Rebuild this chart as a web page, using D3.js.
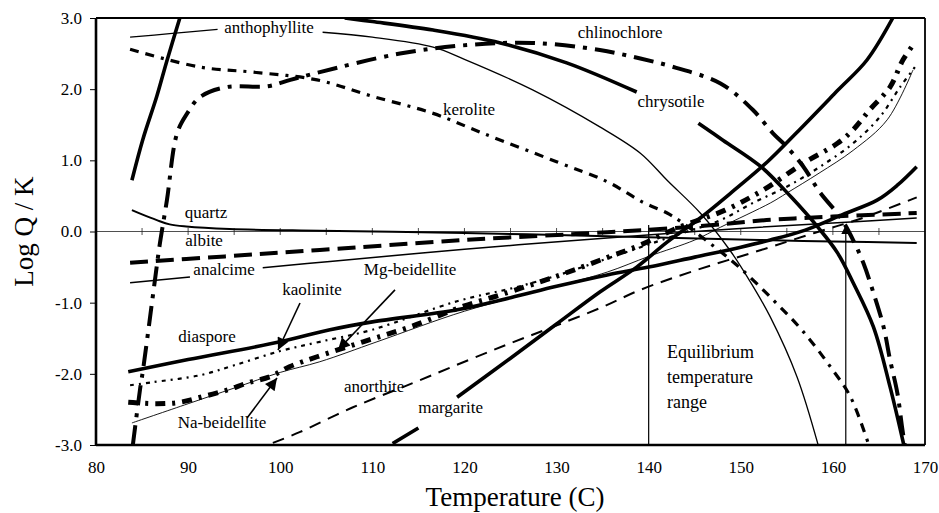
<!DOCTYPE html>
<html><head><meta charset="utf-8">
<script src="https://cdn.jsdelivr.net/npm/d3@7"></script>
<style>
body{margin:0;background:#fff}
svg text{font-family:"Liberation Serif","Times New Roman",serif !important;fill:#000}
</style>
</head><body>
<svg id="chart" width="939" height="513"></svg>
<script>
// ---------- data ----------
const xTicks = [80, 90, 100, 110, 120, 130, 140, 150, 160, 170];
const xTickLabels = ["80","90","100","110","120","130","140","150","160","170"];
const yTicks = [3, 2, 1, 0, -1, -2, -3];
const yTickLabels = ["3.0","2.0","1.0","0.0","-1.0","-2.0","-3.0"];
const zeroLineTicks = [85,90,95,100,105,110,115,120,125,130,135,140,145,150,155,160,165];

const anthophyllite = [[83.7,2.73],[88,2.78],[93.2,2.84],null,[104.6,2.80],[110,2.73],[116.6,2.59],[120,2.42],[127.4,1.99],[134.7,1.47],[139.1,1.10],[142,0.72],[145.6,0.26],[148.8,-0.26],[151,-0.7],[153.2,-1.2],[156.1,-2.04],[158.4,-3.0]];
const chrysotile = [[83.9,0.72],[85.1,1.3],[86.6,1.9],[87.7,2.4],[89.1,3.0],null,[107,3.0],[110,2.95],[116.6,2.83],[123.9,2.65],[131.1,2.37],[138.7,1.96],null,[145.4,1.52],[148.1,1.28],[152.2,0.91],[155.5,0.48],[158.5,0.04],[160.5,-0.3],[162.2,-0.72],[164.4,-1.34],[166.2,-2.18],[167.7,-3.0]];
const kerolite = [[83.7,2.56],[91.3,2.31],[97,2.24],[104,2.13],[110,1.9],[116.6,1.66],[122,1.38],[130,0.98],[135.5,0.70],[139.4,0.41],[142,0.26],[143.6,0.13],[146.5,-0.15],[149.9,-0.51],[153.5,-0.96],[156.8,-1.41],[160,-1.95],[161.9,-2.32],[163.8,-2.96]];
const chlinochlore = [[84,-3.0],[84.8,-2.2],[85.1,-1.95],[86.4,-0.68],[86.9,-0.2],[87.7,0.44],[88.8,1.38],[89.9,1.66],[91.3,1.89],[94.2,2.03],[98.6,2.04],[101.1,2.13],[104.3,2.24],[113,2.5],[120.3,2.62],[127.4,2.65],[134.7,2.55],[139.1,2.43],[143,2.3],[147.8,2.08],[151.3,1.71],[153.5,1.38],[155,1.19],[156.8,0.91],[158.6,0.55],[160.8,0.2],[162.2,-0.12],[163.3,-0.44],[164.4,-0.86],[165.5,-1.34],[166.2,-1.8],[167,-2.27],[167.5,-2.74],[167.8,-3.0]];
const quartz = [[83.9,0.30],[85,0.24],[86.6,0.16],[88,0.10],[89.8,0.07],[94.5,0.035],[104.3,0.01],[120,-0.02],[130,-0.05],[140,-0.08],[152.1,-0.12],[160,-0.14],[169.1,-0.16]];
const albite = [[83.7,-0.44],[94,-0.35],[104.3,-0.26],[120,-0.12],[135.5,-0.01],[145,0.07],[152.8,0.16],[160,0.21],[169.1,0.26]];
const analcime = [[83.7,-0.72],[90.2,-0.64],null,[98.1,-0.51],[105.4,-0.42],[120,-0.25],[135.5,-0.09],[145,0.0],[152.1,0.06],[160,0.12],[169.1,0.19]];
const diaspore = [[83.5,-1.97],[90,-1.8],[100,-1.55],[105.4,-1.38],[110,-1.27],[119.2,-1.1],[125,-0.93],[130,-0.77],[135.5,-0.61],[140,-0.5],[145,-0.36],[150,-0.22],[153.2,-0.12],[157,0.02],[161.1,0.24],[164.8,0.44],[167,0.65],[169.1,0.91]];
const kaolinite = [[83.7,-2.16],[86,-2.12],[91.3,-2.02],[95,-1.88],[100,-1.68],[104.3,-1.55],[110,-1.38],[119.2,-0.98],[125.7,-0.78],[130,-0.62],[135.5,-0.38],[143,-0.05],[147.8,0.16],[151.3,0.40],[155,0.63],[158.6,0.91],[162.2,1.24],[165.1,1.61],[167.3,2.03],[168.9,2.31]];
const mgBeidellite = [[83.5,-2.4],[86.6,-2.42],[89.1,-2.4],[91.6,-2.32],[94.2,-2.23],[96.4,-2.13],[98.9,-2.04],[101,-1.9],[104,-1.76],[109,-1.55],[114.1,-1.34],[119.9,-1.05],[123.9,-0.89],[130.4,-0.61],[135.6,-0.36],[139.1,-0.19],[143.1,0.05],[148.3,0.3],[152.4,0.58],[156.8,0.96],[160.5,1.24],[162.2,1.43],[164,1.71],[166.2,2.03],[167.6,2.41],[168.7,2.62]];
const naBeidellite = [[83.9,-2.69],[90,-2.42],[95,-2.2],[100,-1.98],[104.3,-1.83],[110.5,-1.55],[120,-1.12],[130,-0.77],[135.5,-0.57],[140,-0.35],[145,-0.12],[147.8,0.06],[153.2,0.40],[155,0.54],[158.5,0.82],[162.2,1.14],[165.9,1.57],[168.7,2.27]];
const anorthite = [[99.2,-2.97],[102.1,-2.82],[107.9,-2.47],[114.4,-2.13],[120,-1.83],[125,-1.57],[129.6,-1.34],[135,-1.06],[139.1,-0.82],[145,-0.55],[152.2,-0.26],[158,-0.02],[163,0.18],[169.1,0.48]];
const margarite = [[112.2,-2.98],[115,-2.76],null,[119.2,-2.33],[125,-1.78],[130,-1.3],[134.7,-0.85],[138.7,-0.5],[142,-0.15],[145.6,0.19],[149,0.55],[152.9,0.98],[156,1.38],[160.5,1.98],[163.7,2.41],[166.5,3.0]];

const seriesNames = ["anthophyllite","chrysotile","kerolite","chlinochlore","quartz","albite","analcime","diaspore","kaolinite","mgBeidellite","naBeidellite","anorthite","margarite"];
const seriesData = {anthophyllite, chrysotile, kerolite, chlinochlore, quartz, albite, analcime, diaspore, kaolinite, mgBeidellite, naBeidellite, anorthite, margarite};

// label texts and anchor points (data coordinates)
const labelTexts = ["anthophyllite","chlinochlore","kerolite","chrysotile","quartz","albite","analcime","kaolinite","Mg-beidellite","diaspore","Na-beidellite","anorthite","margarite"];
const labelT = [98.78, 136.9, 120.5, 142.43, 91.94, 91.73, 93.9, 103.45, 114.1, 92.05, 93.68, 110.2, 118.5];
const labelV = [2.86, 2.79, 1.71, 1.83, 0.27, -0.13, -0.53, -0.81, -0.54, -1.48, -2.69, -2.18, -2.48];

// annotation arrows [fromT, fromV, toT, toV]
const arrows = [[102.15,-1.005,99.76,-1.665],[112.46,-0.82,106.27,-1.665],[96.4,-2.62,99.65,-2.06]];
// equilibrium temperature range
const eqRange = [140, 161.4];
const eqTop = 0.09;
const eqText = ["Equilibrium","temperature","range"];
const eqTextT = 142.0;
const eqTextV = [-1.69, -2.04, -2.40];

// ---------- styles ----------
const styles = {
  anthophyllite:{w:1.3,dash:null},
  chrysotile:{w:3.6,dash:null},
  kerolite:{w:3.2,dash:"9,7,9,7,3,7"},
  chlinochlore:{w:4,dash:"20,8,4,8"},
  quartz:{w:2,dash:null},
  albite:{w:4,dash:"18,8"},
  analcime:{w:1.5,dash:null},
  diaspore:{w:3.6,dash:null},
  kaolinite:{w:2.2,dash:"4,5,2,5"},
  mgBeidellite:{w:5,dash:"10,7,3,7"},
  naBeidellite:{w:0.9,dash:null},
  anorthite:{w:2,dash:"12,8"},
  margarite:{w:3.6,dash:null}
};
const FONT = '"Liberation Serif","Times New Roman",serif';

// ---------- chart ----------
const svg = d3.select("#chart");
const L = 96, R = 925, T = 18, B = 445;
const x = d3.scaleLinear().domain([80,170]).range([L,R]);
const y = d3.scaleLinear().domain([-3,3]).range([B,T]);

const defs = svg.append("defs");
defs.append("clipPath").attr("id","clip")
  .append("rect").attr("x",L).attr("y",T).attr("width",R-L).attr("height",B-T);
defs.append("marker").attr("id","ah").attr("viewBox","0 0 10 10").attr("refX",10).attr("refY",5)
  .attr("markerWidth",9).attr("markerHeight",9).attr("markerUnits","userSpaceOnUse").attr("orient","auto")
  .append("path").attr("d","M0,0L10,5L0,10z").attr("fill","#000");
defs.append("marker").attr("id","ahBig").attr("viewBox","0 0 10 10").attr("refX",10).attr("refY",5)
  .attr("markerWidth",14).attr("markerHeight",12).attr("markerUnits","userSpaceOnUse").attr("orient","auto")
  .append("path").attr("d","M0,0L10,5L0,10z").attr("fill","#000");

// zero line with ticks
const g0 = svg.append("g");
g0.append("line").attr("x1",L).attr("x2",R).attr("y1",y(0)).attr("y2",y(0))
  .attr("stroke","#222").attr("stroke-width",0.8);
g0.selectAll("line.zt").data(zeroLineTicks).enter().append("line").attr("class","zt")
  .attr("x1",d=>x(d)).attr("x2",d=>x(d)).attr("y1",y(0)-3.5).attr("y2",y(0)+3.5)
  .attr("stroke","#222").attr("stroke-width",0.8);

// series
const line = d3.line().defined(d=>d!==null).x(d=>x(d[0])).y(d=>y(d[1])).curve(d3.curveCatmullRom.alpha(0.5));
const gl = svg.append("g").attr("clip-path","url(#clip)");
seriesNames.forEach(n=>{
  const s = styles[n];
  gl.append("path").attr("d",line(seriesData[n])).attr("fill","none")
    .attr("stroke","#000").attr("stroke-width",s.w)
    .attr("stroke-dasharray",s.dash).attr("stroke-linecap","butt").attr("stroke-linejoin","round");
});

// equilibrium verticals
gl.append("line").attr("x1",x(eqRange[0])).attr("x2",x(eqRange[0])).attr("y1",y(-3)).attr("y2",y(eqTop))
  .attr("stroke","#000").attr("stroke-width",1.2);
gl.append("line").attr("x1",x(eqRange[1])).attr("x2",x(eqRange[1])).attr("y1",y(-3)).attr("y2",y(eqTop))
  .attr("stroke","#000").attr("stroke-width",1.2).attr("marker-end","url(#ah)");

// arrows
arrows.forEach(a=>{
  svg.append("line").attr("x1",x(a[0])).attr("y1",y(a[1])).attr("x2",x(a[2])).attr("y2",y(a[3]))
    .attr("stroke","#000").attr("stroke-width",1.6).attr("marker-end","url(#ahBig)");
});

// labels
labelTexts.forEach((t,i)=>{
  svg.append("text").attr("x",x(labelT[i])).attr("y",y(labelV[i]))
    .attr("text-anchor","middle").attr("dominant-baseline","central")
    .style("font-family",FONT).style("font-size","17px").text(t);
});
eqText.forEach((t,i)=>{
  svg.append("text").attr("x",x(eqTextT)).attr("y",y(eqTextV[i])).attr("dominant-baseline","central")
    .style("font-family",FONT).style("font-size","18px").text(t);
});

// frame
svg.append("line").attr("x1",L).attr("x2",R).attr("y1",T).attr("y2",T).attr("stroke","#000").attr("stroke-width",1.8);
svg.append("line").attr("x1",R).attr("x2",R).attr("y1",T).attr("y2",B).attr("stroke","#000").attr("stroke-width",1.8);

// axes
const yAxis = svg.append("g").attr("transform",`translate(${L},0)`)
  .call(d3.axisLeft(y).tickValues(yTicks).tickSize(6).tickFormat((d,i)=>yTickLabels[i]));
yAxis.attr("font-family",null).attr("font-size",null);
yAxis.select(".domain").attr("stroke-width",2.6).attr("d",`M0,${T}V${B}`);
yAxis.selectAll("text").style("font-family",FONT).style("font-size","17px").attr("dx","-0.3em");
yAxis.selectAll(".tick line").attr("stroke-width",1);

const xAxis = svg.append("g").attr("transform",`translate(0,${B})`)
  .call(d3.axisBottom(x).tickValues(xTicks).tickSize(0).tickFormat((d,i)=>xTickLabels[i]));
xAxis.attr("font-family",null).attr("font-size",null);
xAxis.select(".domain").attr("stroke-width",2.6).attr("d",`M${L},0H${R}`);
xAxis.selectAll("text").style("font-family",FONT).style("font-size","17px").attr("dy","1.45em");

svg.append("text").attr("x",515).attr("y",506).attr("text-anchor","middle")
  .style("font-family",FONT).style("font-size","27px").text("Temperature (C)");
svg.append("text").attr("transform",`translate(33,${(T+B)/2}) rotate(-90)`).attr("text-anchor","middle")
  .style("font-family",FONT).style("font-size","27px").text("Log Q / K");
</script>
</body></html>
